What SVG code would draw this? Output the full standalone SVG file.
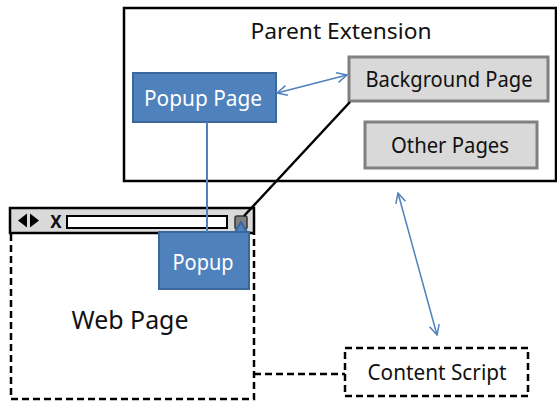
<svg xmlns="http://www.w3.org/2000/svg" width="557" height="402" viewBox="0 0 557 402">
  <style>
    text { font-family: "Noto Sans", "Open Sans", sans-serif; fill: #111; text-anchor: middle; }
    .blue { fill: #4F81BD; stroke: #3A679C; stroke-width: 2; }
    .blue-text { fill: #ffffff; }
    .grey { fill: #D9D9D9; stroke: #808080; stroke-width: 3; }
    .dash { fill: none; stroke: #000; stroke-width: 2.5; stroke-dasharray: 7 4; }
    .link { fill: none; stroke: #4F81BD; stroke-width: 1.5; }
  </style>
  <defs>
    <marker id="open" viewBox="0 0 12 12" refX="11" refY="6" markerWidth="12" markerHeight="12" markerUnits="userSpaceOnUse" orient="auto-start-reverse">
      <path d="M1,1 L11,6 L1,11" fill="none" stroke="#4F81BD" stroke-width="1.5"/>
    </marker>
  </defs>

  <!-- Parent extension container -->
  <g id="parent-extension">
    <rect x="124" y="8" width="432" height="173" fill="#fff" stroke="#000" stroke-width="2.5"/>
    <text x="341" y="39" font-size="22" textLength="181" lengthAdjust="spacingAndGlyphs">Parent Extension</text>
  </g>

  <g id="popup-page">
    <rect class="blue" x="133" y="73" width="143" height="49"/>
    <text class="blue-text" x="203" y="106" font-size="22" textLength="118" lengthAdjust="spacingAndGlyphs">Popup Page</text>
  </g>

  <g id="background-page">
    <rect class="grey" x="349" y="57" width="199" height="44"/>
    <text x="449" y="87" font-size="22" textLength="167" lengthAdjust="spacingAndGlyphs">Background Page</text>
  </g>

  <g id="other-pages">
    <rect class="grey" x="365" y="122" width="172" height="46"/>
    <text x="450" y="153" font-size="22" textLength="118" lengthAdjust="spacingAndGlyphs">Other Pages</text>
  </g>

  <!-- Browser window with web page -->
  <g id="web-page">
    <path class="dash" d="M11,234 V399 H254 V234"/>
    <rect x="10" y="208" width="244" height="25" fill="#D9D9D9" stroke="#000" stroke-width="2.5"/>
    <polygon points="18,220.5 27,213.5 27,227.5" fill="#000"/>
    <polygon points="39,220.5 30,213.5 30,227.5" fill="#000"/>
    <text x="56" y="228" font-size="17" font-weight="bold">X</text>
    <rect x="67" y="216" width="160" height="12" fill="#fff" stroke="#000" stroke-width="2"/>
    <rect x="235" y="216" width="12" height="13" rx="2" fill="#808080" stroke="#333" stroke-width="1.5"/>
    <text x="130" y="329" font-size="26" textLength="117" lengthAdjust="spacingAndGlyphs">Web Page</text>
  </g>

  <g id="popup">
    <polygon points="241,222 235,232 247,232" class="blue"/>
    <rect class="blue" x="159" y="232" width="90" height="57"/>
    <text class="blue-text" x="203" y="270" font-size="22" textLength="61" lengthAdjust="spacingAndGlyphs">Popup</text>
  </g>

  <g id="content-script">
    <rect class="dash" x="345" y="348" width="183" height="48"/>
    <text x="437" y="380" font-size="22" textLength="139" lengthAdjust="spacingAndGlyphs">Content Script</text>
  </g>

  <!-- Connectors -->
  <g id="connectors">
    <line class="link" x1="277" y1="93" x2="347" y2="75" marker-start="url(#open)" marker-end="url(#open)"/>
    <line class="link" x1="398" y1="193" x2="437" y2="335" marker-start="url(#open)" marker-end="url(#open)"/>
    <line x1="207" y1="122" x2="207" y2="232" stroke="#4F81BD" stroke-width="2"/>
    <line x1="350" y1="102" x2="244" y2="216" stroke="#000" stroke-width="2.5"/>
    <line class="dash" x1="254" y1="374" x2="345" y2="374"/>
  </g>
</svg>
